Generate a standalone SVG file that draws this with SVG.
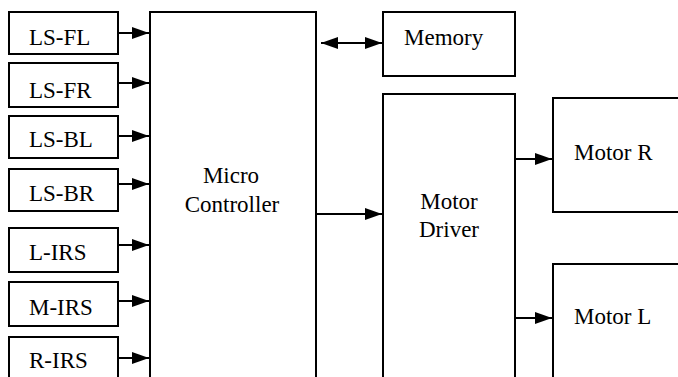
<svg xmlns="http://www.w3.org/2000/svg" width="678" height="377" viewBox="0 0 678 377">
<defs>
<marker id="ah" markerUnits="userSpaceOnUse" markerWidth="17" markerHeight="13" refX="17" refY="6.5" orient="auto-start-reverse" viewBox="0 0 17 13">
<path d="M0,0.5 L17,6.5 L0,12.5 z" fill="#000"/>
</marker>
</defs>
<rect width="678" height="377" fill="#fff"/>
<g id="ls-fl"><rect x="9" y="12" width="109" height="42" fill="#fff" stroke="#000" stroke-width="2"/><text x="29" y="45" style="font-family:'Liberation Serif';font-size:23px">LS-FL</text></g>
<g id="ls-fr"><rect x="9" y="63" width="109" height="44" fill="#fff" stroke="#000" stroke-width="2"/><text x="29" y="98" style="font-family:'Liberation Serif';font-size:23px">LS-FR</text></g>
<g id="ls-bl"><rect x="9" y="116" width="109" height="42" fill="#fff" stroke="#000" stroke-width="2"/><text x="29" y="147" style="font-family:'Liberation Serif';font-size:23px">LS-BL</text></g>
<g id="ls-br"><rect x="9" y="169" width="109" height="42" fill="#fff" stroke="#000" stroke-width="2"/><text x="29" y="201" style="font-family:'Liberation Serif';font-size:23px">LS-BR</text></g>
<g id="l-irs"><rect x="9" y="228" width="109" height="44" fill="#fff" stroke="#000" stroke-width="2"/><text x="29" y="260" style="font-family:'Liberation Serif';font-size:23px">L-IRS</text></g>
<g id="m-irs"><rect x="9" y="282" width="109" height="44" fill="#fff" stroke="#000" stroke-width="2"/><text x="29" y="315" style="font-family:'Liberation Serif';font-size:23px">M-IRS</text></g>
<g id="r-irs"><rect x="9" y="337" width="109" height="60" fill="#fff" stroke="#000" stroke-width="2"/><text x="29" y="368" style="font-family:'Liberation Serif';font-size:23px">R-IRS</text></g>
<g id="micro"><rect x="150" y="12" width="166" height="400" fill="#fff" stroke="#000" stroke-width="2"/><text x="231" y="183" text-anchor="middle" style="font-family:'Liberation Serif';font-size:23px">Micro</text><text x="232" y="212" text-anchor="middle" style="font-family:'Liberation Serif';font-size:23px">Controller</text></g>
<g id="memory"><rect x="383" y="12" width="132" height="64" fill="#fff" stroke="#000" stroke-width="2"/><text x="404" y="45" style="font-family:'Liberation Serif';font-size:23px">Memory</text></g>
<g id="driver"><rect x="383" y="94" width="132" height="320" fill="#fff" stroke="#000" stroke-width="2"/><text x="449" y="209" text-anchor="middle" style="font-family:'Liberation Serif';font-size:23px">Motor</text><text x="449" y="237" text-anchor="middle" style="font-family:'Liberation Serif';font-size:23px">Driver</text></g>
<g id="motor-r"><rect x="553" y="98" width="140" height="114" fill="#fff" stroke="#000" stroke-width="2"/><text x="574" y="160" style="font-family:'Liberation Serif';font-size:23px">Motor R</text></g>
<g id="motor-l"><rect x="553" y="264" width="140" height="150" fill="#fff" stroke="#000" stroke-width="2"/><text x="574" y="324" style="font-family:'Liberation Serif';font-size:23px">Motor L</text></g>
<g id="connectors" stroke="#000" stroke-width="2" fill="none">
<line x1="118" y1="33" x2="149" y2="33" marker-end="url(#ah)"/>
<line x1="118" y1="83" x2="149" y2="83" marker-end="url(#ah)"/>
<line x1="118" y1="136" x2="149" y2="136" marker-end="url(#ah)"/>
<line x1="118" y1="184" x2="149" y2="184" marker-end="url(#ah)"/>
<line x1="118" y1="245" x2="149" y2="245" marker-end="url(#ah)"/>
<line x1="118" y1="301" x2="149" y2="301" marker-end="url(#ah)"/>
<line x1="118" y1="358" x2="149" y2="358" marker-end="url(#ah)"/>
<line x1="321" y1="43" x2="382" y2="43" marker-start="url(#ah)" marker-end="url(#ah)"/>
<line x1="316" y1="214" x2="382" y2="214" marker-end="url(#ah)"/>
<line x1="515" y1="159" x2="552" y2="159" marker-end="url(#ah)"/>
<line x1="515" y1="318" x2="552" y2="318" marker-end="url(#ah)"/>
</g>
</svg>
